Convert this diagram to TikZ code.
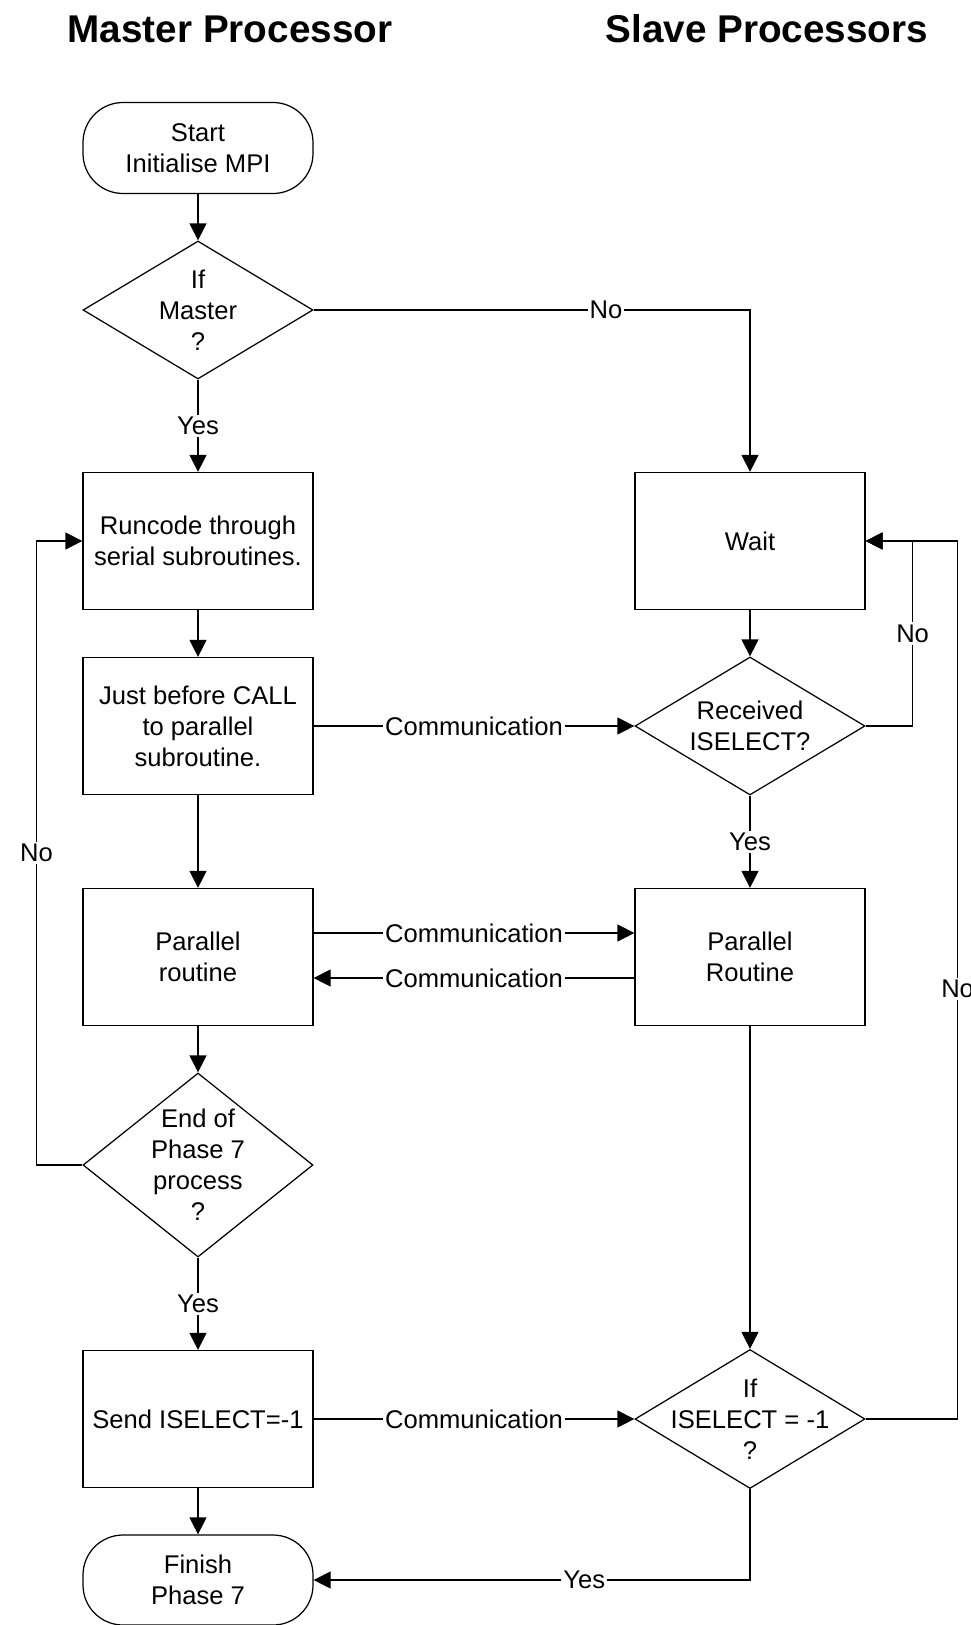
\documentclass[tikz,border=0pt]{standalone}
\usepackage{fontspec}
\setmainfont{Liberation Sans}
\usetikzlibrary{shapes.geometric,arrows.meta}

\tikzset{
  every node/.style={font=\fontsize{7.28}{8.8}\selectfont},
  heading/.style={font=\fontsize{11}{13}\selectfont\bfseries, inner sep=0pt},
  proc/.style={draw, line width=0.35pt, minimum width=2.30cm, minimum height=1.37cm, align=center, inner sep=1pt},
  term/.style={proc, rounded corners=0.4cm, minimum height=0.91cm},
  decide/.style={draw, line width=0.35pt, diamond, inner sep=0pt, minimum width=2.30cm, minimum height=1.38cm},
  flow/.style={line width=0.35pt, -{Triangle[length=1.7mm, width=1.7mm]}},
  lbl/.style={fill=white, inner sep=0.6pt}
}

\begin{document}
\begin{tikzpicture}[x=1cm, y=-1cm]
    \useasboundingbox (0,0) rectangle (9.71,16.25);

    % Headings
    \node[heading] (headM) at (2.30,0.29) {Master Processor};
    \node[heading] (headS) at (7.67,0.29) {Slave Processors};

    % Master column
    \node[term] (start) at (1.98,1.48) {Start\\Initialise MPI};
    \node[decide, label={[align=center]center:If\\Master\\?}] (ifmaster) at (1.98,3.10) {};
    \node[proc] (runcode) at (1.98,5.41) {Runcode through\\serial subroutines.};
    \node[proc] (justbefore) at (1.98,7.26) {Just before CALL\\to parallel\\subroutine.};
    \node[proc] (parM) at (1.98,9.57) {Parallel\\routine};
    \node[decide, minimum height=1.84cm, label={[align=center]center:End of\\Phase 7\\process\\?}] (endphase) at (1.98,11.65) {};
    \node[proc] (sendsel) at (1.98,14.19) {Send ISELECT=-1};
    \node[term, minimum height=0.90cm] (finish) at (1.98,15.80) {Finish\\Phase 7};

    % Slave column
    \node[proc] (wait) at (7.50,5.41) {Wait};
    \node[decide, label={[align=center]center:Received\\ISELECT?}] (received) at (7.50,7.26) {};
    \node[proc] (parS) at (7.50,9.57) {Parallel\\Routine};
    \node[decide, minimum height=1.39cm, label={[align=center]center:If\\ISELECT = -1\\?}] (ifsel) at (7.50,14.19) {};

    % Master flow
    \draw[flow] (start) -- (ifmaster);
    \draw[flow] (ifmaster) -- node[lbl] {Yes} (runcode);
    \draw[flow] (runcode) -- (justbefore);
    \draw[flow] (justbefore) -- (parM);
    \draw[flow] (parM) -- (endphase);
    \draw[flow] (endphase) -- node[lbl] {Yes} (sendsel);
    \draw[flow] (sendsel) -- (finish);
    \draw[flow] (endphase.west) -- ++(-0.46,0) |- node[lbl, pos=0.25] {No} (runcode.west);

    % Slave flow
    \draw[flow] (ifmaster.east) -| node[lbl, pos=0.335] {No} (wait.north);
    \draw[flow] (wait) -- (received);
    \draw[flow] (received) -- node[lbl] {Yes} (parS);
    \draw[flow] (parS) -- (ifsel);
    \draw[flow] (received.east) -- ++(0.47,0) |- node[lbl, pos=0.25] {No} (wait.east);
    \draw[flow] (ifsel.east) -- ++(0.92,0) |- node[lbl, pos=0.245] {No} (wait.east);
    \draw[flow] (ifsel.south) |- node[lbl, pos=0.69] {Yes} (finish.east);

    % Communication between processors
    \draw[flow] (justbefore) -- node[lbl] {Communication} (received);
    \draw[flow] ([yshift=0.24cm]parM.east) -- node[lbl] {Communication} ([yshift=0.24cm]parS.west);
    \draw[flow] ([yshift=-0.21cm]parS.west) -- node[lbl] {Communication} ([yshift=-0.21cm]parM.east);
    \draw[flow] (sendsel) -- node[lbl] {Communication} (ifsel);
\end{tikzpicture}
\end{document}
